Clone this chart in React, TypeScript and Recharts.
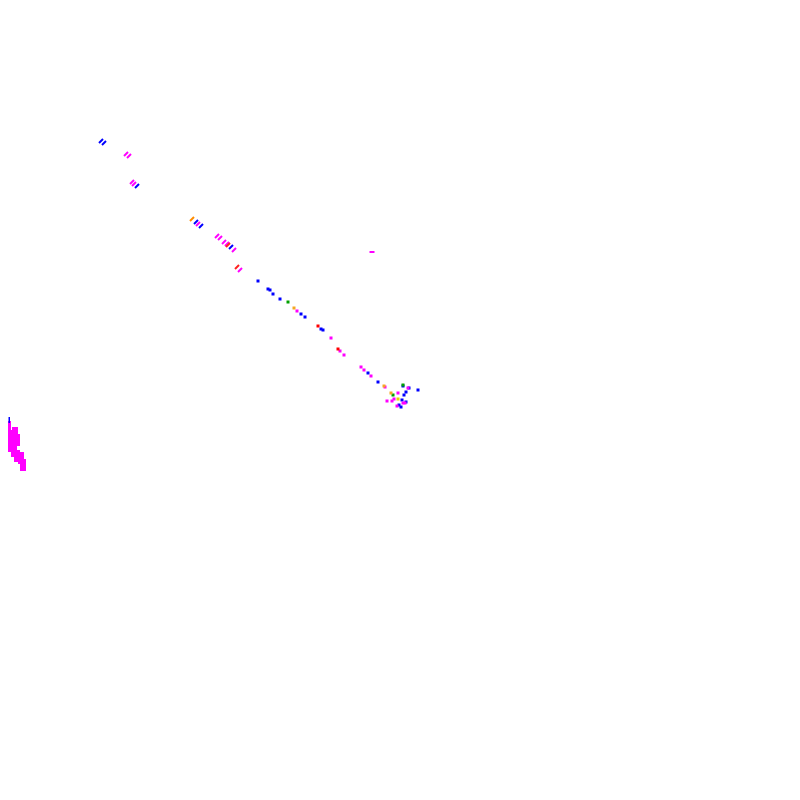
import { ScatterChart, Scatter, XAxis, YAxis } from "recharts";

// page-pixel positions, [x, y]
const trailBlue = [[101, 141], [104, 143], [137, 186], [196, 222], [201, 226], [231, 247]];
const trailMagenta = [
    [126, 154], [129, 156], [132, 182], [134, 184], [198, 224], [217, 236],
    [220, 238], [224, 242], [227, 244], [234, 250], [240, 270],
];
const trailOrange = [[192, 219]];
const trailRed = [[237, 267], [228, 245]];

const dashMagenta = [[372, 252]];

const dotBlue = [
    [258, 281], [268, 289], [270, 290], [273, 294], [280, 299], [301, 314],
    [305, 317], [321, 329], [323, 330], [368, 373], [378, 382], [403, 386],
    [409, 388], [418, 390], [406, 392], [404, 395], [402, 400], [399, 405],
    [401, 407], [406, 402],
];
const dotMagenta = [
    [297, 311], [331, 338], [340, 351], [344, 355], [361, 367], [364, 370],
    [371, 376], [385, 387], [408, 388], [398, 393], [394, 399], [387, 401],
    [403, 403], [405, 403], [397, 406], [392, 401],
];
const dotRed = [[318, 326], [338, 349]];
const dotGreen = [[288, 302], [403, 385], [393, 395]];
const dotOrange = [[294, 308], [384, 386], [391, 393]];
const dotYellow = [[398, 399]];

const blockMagenta = [
    [8, 427], [9, 436], [15, 433], [8, 446], [14, 442], [17, 440],
    [14, 451], [17, 456], [21, 458], [23, 465],
];
const blockBlue = [[9, 420]];

const toPoints = (rows: number[][]) => rows.map(([x, y]) => ({ x, y }));

const Slash = ({ cx, cy, fill }: any) => (
    <line
        x1={cx - 2}
        y1={cy + 2}
        x2={cx + 2}
        y2={cy - 2}
        stroke={fill}
        strokeWidth={2}
    />
);

const Dot = ({ cx, cy, fill }: any) => (
    <rect x={cx - 1.5} y={cy - 1.5} width={3} height={3} fill={fill} />
);

const Dash = ({ cx, cy, fill }: any) => (
    <rect x={cx - 2.5} y={cy - 1} width={5} height={2} fill={fill} />
);

const Block = ({ cx, cy, fill }: any) => (
    <rect x={cx - 3} y={cy - 6} width={6} height={12} fill={fill} />
);

const Thin = ({ cx, cy, fill }: any) => (
    <rect x={cx - 0.5} y={cy - 3} width={1.5} height={6} fill={fill} />
);

const series = [
    { name: "trailBlue", data: trailBlue, fill: "#0000ff", shape: Slash },
    { name: "trailMagenta", data: trailMagenta, fill: "#ff00ff", shape: Slash },
    { name: "trailOrange", data: trailOrange, fill: "#ff8c00", shape: Slash },
    { name: "trailRed", data: trailRed, fill: "#ff2020", shape: Slash },
    { name: "dashMagenta", data: dashMagenta, fill: "#ff00ff", shape: Dash },
    { name: "dotBlue", data: dotBlue, fill: "#0000ff", shape: Dot },
    { name: "dotMagenta", data: dotMagenta, fill: "#ff00ff", shape: Dot },
    { name: "dotRed", data: dotRed, fill: "#ff0000", shape: Dot },
    { name: "dotGreen", data: dotGreen, fill: "#00a000", shape: Dot },
    { name: "dotOrange", data: dotOrange, fill: "#f5a623", shape: Dot },
    { name: "dotYellow", data: dotYellow, fill: "#e6d200", shape: Dot },
    { name: "blockMagenta", data: blockMagenta, fill: "#ff00ff", shape: Block },
    { name: "blockBlue", data: blockBlue, fill: "#0000ff", shape: Thin },
];

const App = () => {
    return (
        <div style={{ margin: -8, width: 800, height: 800, background: "#ffffff" }}>
            <ScatterChart
                width={800}
                height={800}
                margin={{ top: 0, right: 0, left: 0, bottom: 0 }}
            >
                <XAxis type="number" dataKey="x" domain={[0, 800]} hide />
                <YAxis type="number" dataKey="y" domain={[0, 800]} reversed hide />

                {series.map((s) => (
                    <Scatter
                        key={s.name}
                        name={s.name}
                        data={toPoints(s.data)}
                        fill={s.fill}
                        shape={s.shape}
                        isAnimationActive={false}
                    />
                ))}
            </ScatterChart>
        </div>
    );
};

export default App;
